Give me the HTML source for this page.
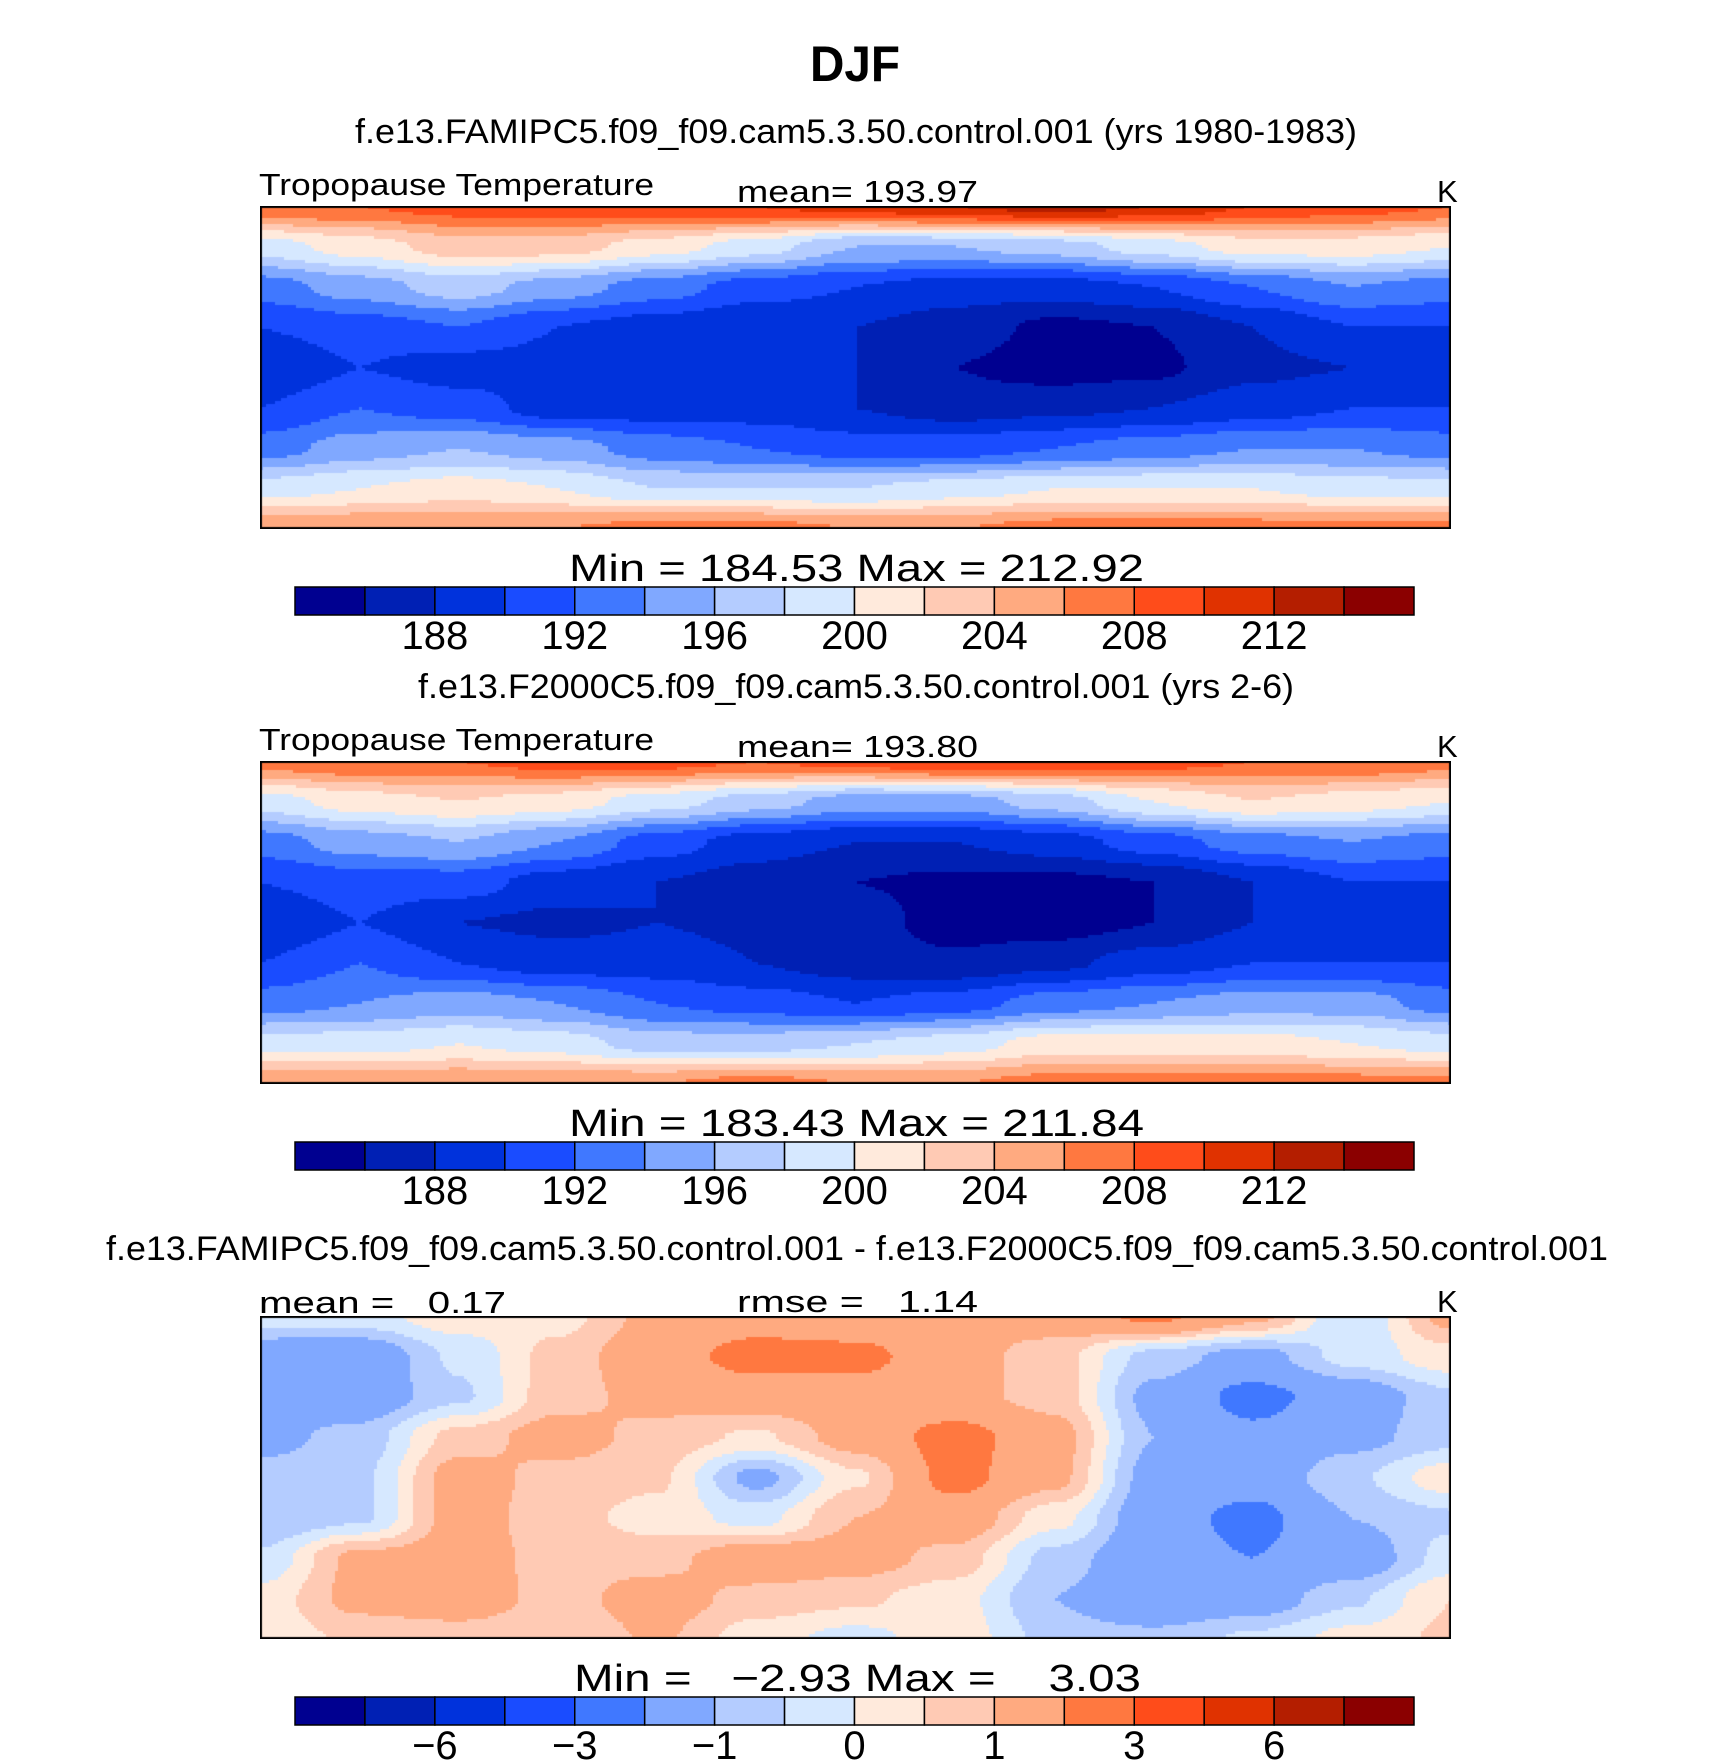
<!DOCTYPE html>
<html><head><meta charset="utf-8"><style>
html,body{margin:0;padding:0;background:#fff;}
#wrap{position:relative;width:1710px;height:1761px;overflow:hidden;}
svg{position:absolute;left:0;top:0;}
canvas{position:absolute;}
text{font-family:"Liberation Sans",sans-serif;fill:#000;white-space:pre;}
</style></head><body>
<div id="wrap">
<canvas id="m1" style="left:260px;top:206px" width="1191" height="323"></canvas>
<canvas id="m2" style="left:260px;top:761px" width="1191" height="323"></canvas>
<canvas id="m3" style="left:260px;top:1316px" width="1191" height="323"></canvas>
<svg id="svg" width="1710" height="1761">
<text x="810" y="81" font-size="50" font-weight="bold" textLength="90" lengthAdjust="spacingAndGlyphs">DJF</text>
<text x="355" y="143" font-size="34" textLength="1002" lengthAdjust="spacingAndGlyphs">f.e13.FAMIPC5.f09_f09.cam5.3.50.control.001 (yrs 1980-1983)</text>
<text x="418" y="698" font-size="34" textLength="876" lengthAdjust="spacingAndGlyphs">f.e13.F2000C5.f09_f09.cam5.3.50.control.001 (yrs 2-6)</text>
<text x="106" y="1260" font-size="34" textLength="1502" lengthAdjust="spacingAndGlyphs">f.e13.FAMIPC5.f09_f09.cam5.3.50.control.001 - f.e13.F2000C5.f09_f09.cam5.3.50.control.001</text>
<g id="labels"></g>
</svg>
</div>
<script>
// ---- data ----
const colors = ["#000090","#0020b4","#0032dc","#1a4cff","#4078ff","#80a8ff","#b4ccff","#d6e8ff","#ffeadc","#ffcab4","#ffaa80","#ff7840","#ff4c1a","#e03200","#b41e00","#8b0000"];
const levelsT = [186,188,190,192,194,196,198,200,202,204,206,208,210,212,214];
const levelsD = [-8,-6,-5,-3,-2,-1,-0.5,0,0.5,1,2,3,5,6,8];
const ticksT = ["188","192","196","200","204","208","212"];
const ticksD = ["\u22126","\u22123","\u22121","0","1","3","6"];
const field1 = [
[208,208,209,209,210,210,211,212,213,212,210,209,208],
[199,201,203,203,201,199,196,196,197,199,201,201,200],
[193,195,197,195,193,191,190,189,189,190,192,194,193],
[190,191,192,190,189,188,188,187,185.5,186,188,190,190],
[188,190,189,189,189,188,188,186,185,185.5,187.5,188,188],
[190,192,191,189,189,189,188,187,187.5,188,189,190,190],
[193,195,196,195,193,192,191,191,192,193,194,194,193],
[199,200,201,200,198,198,198,199,200,200,200,199,199],
[206,206,206,206,207,207,206,206,207,207,207,207,207]];
const field2 = [
[207,208,208,209,209,208,209,210,210,209,208,208,207],
[199,201,202,201,199,197,195,195,197,200,202,201,200],
[193,195,196,194,191,189,188,188,189,191,193,194,193],
[190,191,191,189,188,187,186,185.5,185.5,186,188,190,190],
[188,190,188,187.5,188,187.5,187,185,185,186,188,188,188],
[190,192,190,189,189,188,187,186.5,187.5,189,190,190,190],
[193,194,195,194,192,191,190,191,193,194,195,195,193],
[199,199,200,199,197,197,198,199,201,201,201,200,199],
[206,206,206,206,206,207,206,206,207,207,207,207,207]];
const fieldD = [
[-0.3,-0.2,0.3,0.3,1.2,1.5,1.3,1.2,1.4,2.2,1.2,-0.5,1.2],
[-1.5,-1.6,-0.4,0.7,1.5,2.4,2.3,1.3,0.7,-0.7,-1.3,-0.3,0.3],
[-1.5,-1.5,-0.6,0.8,1.2,1.4,1.5,1.2,0.8,-1.2,-2.3,-1.5,-0.6],
[-1.2,-0.8,0.7,1.3,0.8,0.4,1.3,2.4,1.3,-1,-1.8,-1.2,-0.7],
[-0.8,-0.6,1.3,0.8,0.6,-1.2,0.4,2.3,1.2,-1.3,-1.5,-0.6,0.3],
[-1,-0.6,1.3,0.7,0.3,-0.2,1,1.5,0.2,-1.5,-2.3,-1,-0.6],
[-0.4,1.2,1.3,0.8,0.8,1.5,1.3,0.8,-0.7,-1.6,-2,-1.5,-0.3],
[0.2,1.2,1.4,0.8,1.3,0.8,0.6,0.2,-1,-1.7,-1.4,-0.6,0.5],
[0.2,0.6,0.7,0.5,1.1,0.2,-0.2,0.3,-0.7,-0.8,-0.4,0.2,0.6]];

// ---- drawing ----
function hermite(t){return t*t*(3-2*t);}
function sample(f,u,v){
  const R=f.length-1,C=f[0].length-1;
  const y=v*R,x=u*C;
  const i=Math.min(Math.floor(y),R-1),j=Math.min(Math.floor(x),C-1);
  const ty=hermite(y-i),tx=hermite(x-j);
  const a=f[i][j]*(1-tx)+f[i][j+1]*tx, b=f[i+1][j]*(1-tx)+f[i+1][j+1]*tx;
  return a*(1-ty)+b*ty;
}
function colorIndex(val,levels){let k=0;while(k<levels.length&&val>=levels[k]-1e-9)k++;return k;}
function drawMap(id,f,levels){
  const cv=document.getElementById(id),ctx=cv.getContext('2d');
  const W=cv.width,H=cv.height,s=3;
  for(let y=0;y<H;y+=s){for(let x=0;x<W;x+=s){
    ctx.fillStyle=colors[colorIndex(sample(f,(x+1.37)/W,(y+1.41)/H),levels)];
    ctx.fillRect(x,y,s,s);
  }}
  ctx.strokeStyle="#000";ctx.lineWidth=2;ctx.strokeRect(1,1,W-2,H-2);
}
drawMap('m1',field1,levelsT);
drawMap('m2',field2,levelsT);
drawMap('m3',fieldD,levelsD);

const NS="http://www.w3.org/2000/svg";
const g=document.getElementById('labels');
function txt(s,x,y,size,len,name,anchor){
  const t=document.createElementNS(NS,'text');
  t.setAttribute('x',x);t.setAttribute('y',y);t.setAttribute('font-size',size);
  if(len){t.setAttribute('textLength',len);t.setAttribute('lengthAdjust','spacingAndGlyphs');}
  if(anchor)t.setAttribute('text-anchor',anchor);
  t.setAttribute('xml:space','preserve');
  
  
  t.textContent=s;g.appendChild(t);return t;
}
const barX=295,barW=1119;
function colorbar(top,ticks,name){
  const cw=barW/colors.length;
  colors.forEach((c,i)=>{
    const r=document.createElementNS(NS,'rect');
    r.setAttribute('x',barX+i*cw);r.setAttribute('y',top);r.setAttribute('width',cw);r.setAttribute('height',28);
    r.setAttribute('fill',c);r.setAttribute('stroke','#000');r.setAttribute('stroke-width','1.5');
    
    
    g.appendChild(r);
  });
  ticks.forEach((s,k)=>{
    txt(s,barX+(2*k+2)*cw,top+62,40,null,name+'-tick-label','middle');
  });
}
const panels=[
 {off:0,left:"Tropopause Temperature",leftLen:395,mid:"mean= 193.97",mm:"Min = 184.53 Max = 212.92",ticks:ticksT},
 {off:555,left:"Tropopause Temperature",leftLen:395,mid:"mean= 193.80",mm:"Min = 183.43 Max = 211.84",ticks:ticksT},
 {off:1110,left:"mean =   0.17",leftLen:247,mid:"rmse =   1.14",mm:"Min =   \u22122.93 Max =    3.03",ticks:ticksD}
];
panels.forEach((p,i)=>{
  const o=p.off;
  txt(p.left,259,(i==2?203:195)+o,31,p.leftLen,'panel-'+(i+1)+'-left-label');
  txt(p.mid,737,202+o,31,241,'panel-'+(i+1)+'-stat-label');
  txt("K",1437,202+o,31,null,'panel-'+(i+1)+'-units');
  txt(p.mm,i==2?574:569,581+o,38,i==2?567:575,'panel-'+(i+1)+'-minmax');
  colorbar(587+o,p.ticks,'colorbar-'+(i+1));
});
</script>
</body></html>
